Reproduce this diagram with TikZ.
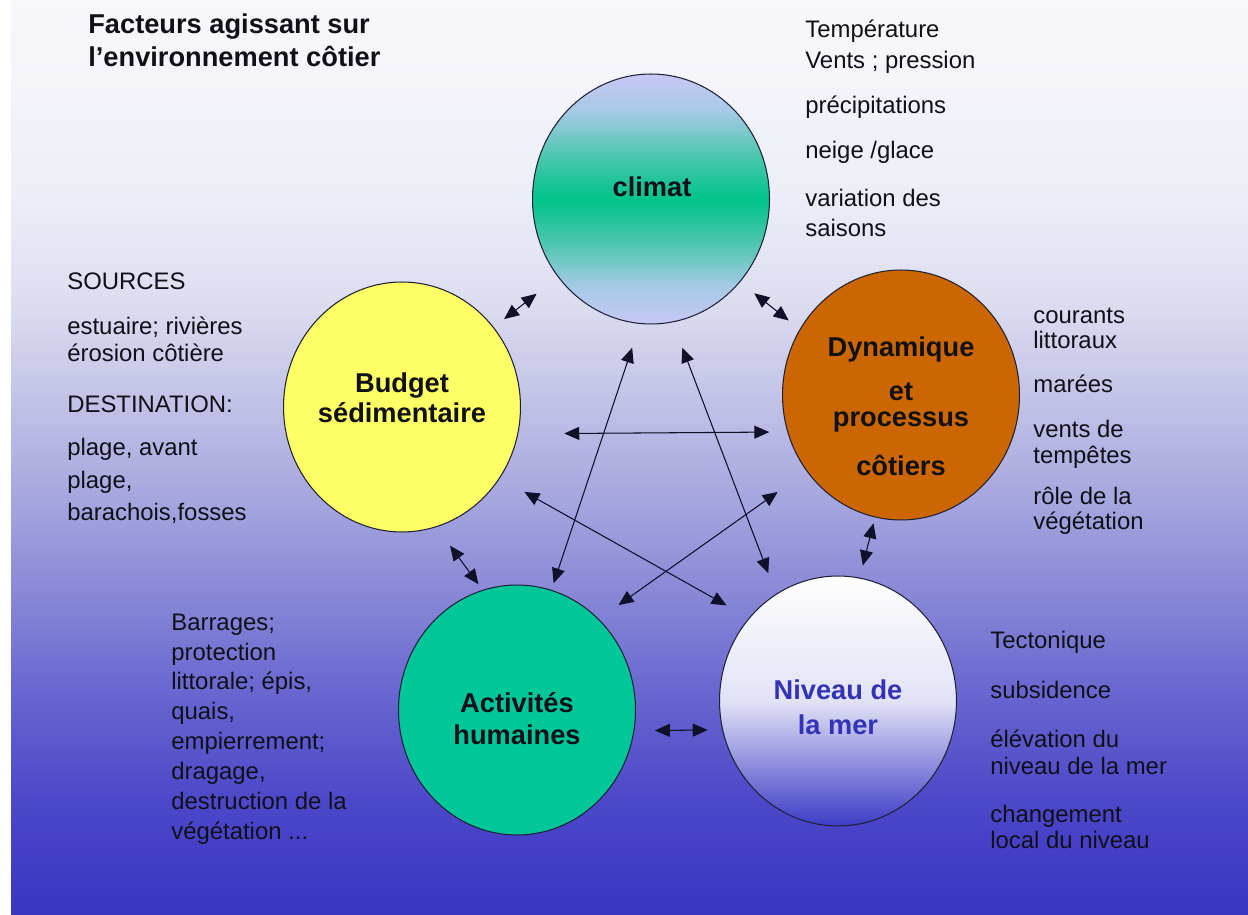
\documentclass[tikz,border=0pt]{standalone}
\usepackage{fontspec}
\setmainfont{Liberation Sans}
\usetikzlibrary{shapes.geometric, arrows.meta}

\definecolor{textc}{HTML}{101018}
\definecolor{circline}{HTML}{202038}
\definecolor{linkc}{HTML}{10102A}
\definecolor{climtop}{HTML}{C8C8F4}
\definecolor{climq}{HTML}{A6CAE6}
\definecolor{climh}{HTML}{46C6AA}
\definecolor{climmid}{HTML}{00C48A}
\definecolor{dynfill}{HTML}{CC6600}
\definecolor{budgfill}{HTML}{FFFF66}
\definecolor{actfill}{HTML}{00C79A}
\definecolor{nivmid}{HTML}{E2E2F5}
\definecolor{nivbot}{HTML}{3C3CC6}
\definecolor{nivtext}{HTML}{3333B8}

% background colours, top to bottom
\definecolor{bg0}{HTML}{F8F8FB}
\definecolor{bg1}{HTML}{EDEDF7}
\definecolor{bg2}{HTML}{DDDDF1}
\definecolor{bg3}{HTML}{C2C2E7}
\definecolor{bg4}{HTML}{A6A6DF}
\definecolor{bg5}{HTML}{8686D6}
\definecolor{bg6}{HTML}{6664CF}
\definecolor{bg7}{HTML}{4C48C9}
\definecolor{bg8}{HTML}{3A34C3}

\pgfdeclareverticalshading{bgshade}{100bp}{color(0bp)=(bg8); color(25bp)=(bg8);
  color(31.3bp)=(bg7); color(36.8bp)=(bg6); color(42.2bp)=(bg5); color(47.7bp)=(bg4);
  color(53.1bp)=(bg3); color(58.6bp)=(bg2); color(64.1bp)=(bg1); color(75bp)=(bg0);
  color(100bp)=(bg0)}

\pgfdeclareverticalshading{climshade}{100bp}{color(0bp)=(climtop); color(25bp)=(climtop);
  color(32.5bp)=(climq); color(42bp)=(climh); color(50bp)=(climmid); color(58bp)=(climh);
  color(67.5bp)=(climq); color(75bp)=(climtop); color(100bp)=(climtop)}

\begin{document}
\begin{tikzpicture}[x=0.02cm, y=-0.02cm,
	circ/.style={ellipse, draw=circline, line width=0.6pt, inner sep=0pt,
		minimum width=4.74cm, minimum height=5cm},
	circtext/.style={align=center, inner sep=0pt, text=textc,
		font=\bfseries\fontsize{15.5}{17}\selectfont},
	note/.style={anchor=west, align=left, inner sep=0pt, text=textc,
		font=\fontsize{13.6}{15.3}\selectfont},
	link/.style={<->, >={Triangle[length=0.3cm, width=0.26cm]},
		line width=0.6pt, draw=linkc, fill=linkc}]

% background
\useasboundingbox (0,0) rectangle (1248,915);
\fill[white] (0,0) rectangle (1248,915);
\shade[shading=bgshade] (11,0) rectangle (1248,915);

% title
\node[note, font=\bfseries\fontsize{15.5}{18.7}\selectfont] (title) at (88,40)
	{Facteurs agissant sur\\l’environnement côtier};

% circles
\node[circ, shade, shading=climshade] (clim) at (651,199) {};
\node[circ, fill=dynfill] (dyn) at (901,395) {};
\node[circ, fill=budgfill] (budg) at (402,407) {};
\node[circ, fill=actfill] (act) at (517,710) {};
\node[circ, top color=white, bottom color=nivbot, middle color=nivmid] (niv) at (838,701) {};

% circle labels
\node[circtext] (climt) at (652,187) {climat};
\node[circtext, font=\bfseries\fontsize{15.5}{14.7}\selectfont] (dynt) at (901,406)
	{Dynamique\\[0.38cm]et\\processus\\[0.42cm]côtiers};
\node[circtext] (budgt) at (402,398) {Budget\\sédimentaire};
\node[circtext, font=\bfseries\fontsize{15.5}{18.1}\selectfont] (actt) at (517,719)
	{Activités\\humaines};
\node[circtext, text=nivtext, font=\bfseries\fontsize{15.5}{19.8}\selectfont] (nivt) at (838,707)
	{Niveau de\\la mer};

% climat notes
\node[note, font=\fontsize{13.6}{17.6}\selectfont] (clim1) at (805,47) {Température\\Vents ; pression};
\node[note] (clim2) at (805,107) {précipitations};
\node[note] (clim3) at (805,152) {neige /glace};
\node[note, font=\fontsize{13.6}{17}\selectfont] (clim4) at (805,213) {variation des\\saisons};

% budget notes
\node[note] (budg1) at (67,281) {SOURCES};
\node[note] (budg2) at (67,339) {estuaire; rivières\\érosion côtière};
\node[note] (budg3) at (67,404) {DESTINATION:};
\node[note, font=\fontsize{13.6}{18.7}\selectfont] (budg4) at (67,481)
	{plage, avant\\plage,\\barachois,fosses};

% dynamique notes
\node[note, font=\fontsize{13.6}{14.2}\selectfont] (dyn1) at (1033,328) {courants\\littoraux};
\node[note] (dyn2) at (1033,384) {marées};
\node[note, font=\fontsize{13.6}{14.7}\selectfont] (dyn3) at (1033,444) {vents de\\tempêtes};
\node[note, font=\fontsize{13.6}{14.2}\selectfont] (dyn4) at (1033,511) {rôle de la\\végétation};

% niveau notes
\node[note] (niv1) at (990,642) {Tectonique};
\node[note] (niv2) at (990,690) {subsidence};
\node[note] (niv3) at (990,752) {élévation du\\niveau de la mer};
\node[note] (niv4) at (990,827) {changement\\local du niveau};

% activites notes
\node[note, font=\fontsize{13.6}{17}\selectfont] (act1) at (171,729)
	{Barrages;\\protection\\littorale; épis,\\quais,\\empierrement;\\dragage,\\destruction de la\\végétation ...};

% links
\foreach \a/\b/\s/\e in {clim.220/budg.41/0.54/0.26, clim.-43/dyn.147/0.36/0.28,
	budg.-13/dyn.198/0.92/0.36, budg.-36/niv.137/0.56/0.51,
	act.48/dyn.219/0.48/0.71, clim.265/act.74/0.50/0.14,
	clim.-80/niv.120/0.54/0.44, budg.-74/act.106/0.46/0.14,
	dyn.258/niv.80/0.12/0.25, act.-10/niv.194/0.41/0.29}
\draw[link, shorten <=\s cm, shorten >=\e cm] (\a) -- (\b);
\end{tikzpicture}
\end{document}
